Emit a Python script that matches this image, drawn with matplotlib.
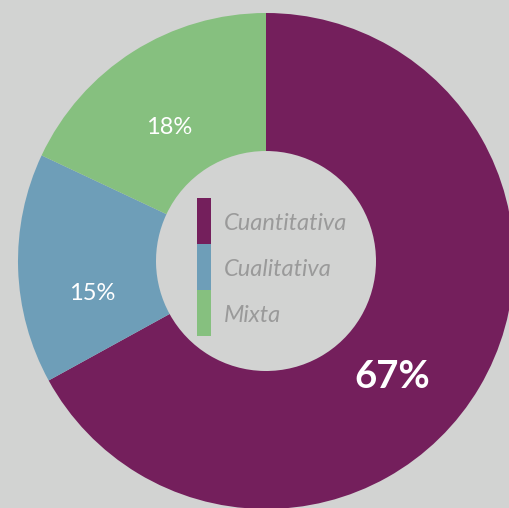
import matplotlib
matplotlib.use("Agg")
import matplotlib.pyplot as plt
from matplotlib.patches import Rectangle

# data
categories = ["Cuantitativa", "Cualitativa", "Mixta"]
shares = [67, 15, 18]
colors = ["#741F5C", "#6E9EB8", "#86C07F"]
BG = "#D2D3D2"

W, H = 509, 508
fig = plt.figure(figsize=(W / 100, H / 100), dpi=100, facecolor=BG)
ax = fig.add_axes([0, 0, 1, 1])
ax.set_facecolor(BG)

# pixel-like coords with y pointing down, so the ring runs clockwise from the top
cx, cy, R = 266, 261, 248
ax.pie(shares, colors=colors, startangle=-90, counterclock=True,
       center=(cx, cy), radius=R,
       wedgeprops=dict(width=R - 110, linewidth=0),
       frame=True)
ax.set_xlim(0, W)
ax.set_ylim(H, 0)
ax.set_aspect("equal")
ax.axis("off")

# percentage labels
pct_pos = [(392, 377), (92, 293), (169, 128)]
for (x, y), v in zip(pct_pos, shares):
    big = v == max(shares)
    ax.text(x, y, f"{v}%", color="white", ha="center", va="center",
            fontsize=27.5 if big else 17, fontweight="bold" if big else "normal",
            family="Lato")

# legend in the hole
for i, (name, c) in enumerate(zip(categories, colors)):
    y0 = 198 + i * 46
    ax.add_patch(Rectangle((197, y0), 14, 46, facecolor=c, edgecolor="none"))
    ax.text(224, y0 + 25, name, color="#9A9A9A", style="italic",
            fontsize=17, ha="left", va="center", family="Lato")

fig.savefig("out.png", dpi=100, facecolor=BG)
